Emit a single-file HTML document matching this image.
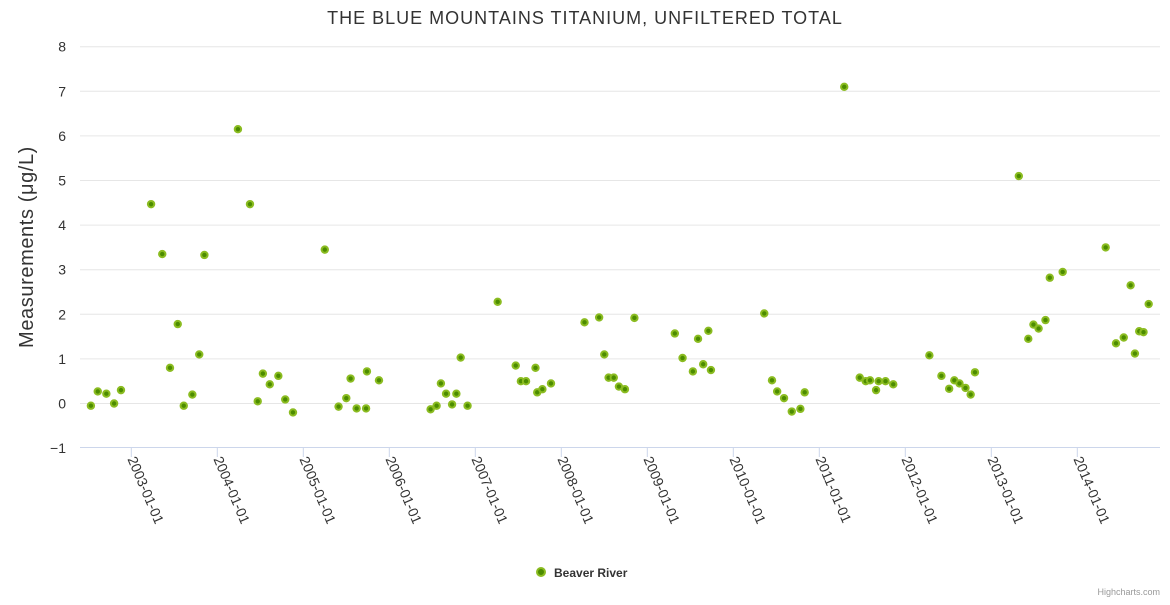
<!DOCTYPE html>
<html><head><meta charset="utf-8"><style>
body{margin:0;background:#fff;font-family:"Liberation Sans",sans-serif}
svg text{font-family:"Liberation Sans",sans-serif}
</style></head><body>
<svg id="c" width="1170" height="600" xmlns="http://www.w3.org/2000/svg">
<rect width="1170" height="600" fill="#fff"/>
<text x="585" y="24" text-anchor="middle" font-size="18" letter-spacing="1" fill="#333">THE BLUE MOUNTAINS TITANIUM, UNFILTERED TOTAL</text>
<text transform="translate(33,247) rotate(-90)" text-anchor="middle" font-size="20" letter-spacing="0.6" fill="#333">Measurements (μg/L)</text>
<g id="grid"></g><g id="xaxis"></g><g id="pts"></g>
<g>
<circle cx="541" cy="572" r="4" fill="#4c8c00" stroke="#8bbc21" stroke-width="2"/>
<text x="554" y="577" font-size="12" font-weight="bold" fill="#333">Beaver River</text>
</g>
<text x="1160" y="595" text-anchor="end" font-size="9" fill="#999">Highcharts.com</text>
</svg>
<script>
const yTicks=[-1,0,1,2,3,4,5,6,7,8];
const xTickYears=[2003,2004,2005,2006,2007,2008,2009,2010,2011,2012,2013,2014];
const xDates=[2002.53,2002.61,2002.71,2002.80,2002.88,2003.23,2003.36,2003.45,2003.54,2003.61,2003.71,2003.79,2003.85,
2004.24,2004.38,2004.47,2004.53,2004.61,2004.71,2004.79,2004.88,2005.25,2005.41,2005.50,2005.55,2005.62,2005.73,2005.74,2005.88,
2006.48,2006.55,2006.60,2006.66,2006.73,2006.78,2006.83,2006.91,2007.26,2007.47,2007.53,2007.59,2007.70,2007.72,2007.78,2007.88,
2008.27,2008.44,2008.50,2008.55,2008.61,2008.67,2008.74,2008.85,2009.32,2009.41,2009.53,2009.59,2009.65,2009.71,2009.74,
2010.36,2010.45,2010.51,2010.59,2010.68,2010.78,2010.83,2011.29,2011.47,2011.54,2011.59,2011.66,2011.69,2011.77,2011.86,
2012.28,2012.42,2012.51,2012.57,2012.63,2012.70,2012.76,2012.81,2013.32,2013.43,2013.49,2013.55,2013.63,2013.68,2013.83,
2014.33,2014.45,2014.54,2014.62,2014.67,2014.72,2014.77,2014.83];
const values=[-0.05,0.27,0.22,0.0,0.3,4.47,3.35,0.8,1.78,-0.05,0.2,1.1,3.33,
6.15,4.47,0.05,0.67,0.43,0.62,0.09,-0.2,3.45,-0.07,0.12,0.56,-0.11,-0.11,0.72,0.52,
-0.13,-0.05,0.45,0.22,-0.02,0.22,1.03,-0.05,2.28,0.85,0.5,0.5,0.8,0.25,0.32,0.45,
1.82,1.93,1.1,0.58,0.58,0.38,0.32,1.92,1.57,1.02,0.72,1.45,0.88,1.63,0.75,
2.02,0.52,0.27,0.12,-0.18,-0.12,0.25,7.1,0.58,0.5,0.52,0.3,0.5,0.5,0.43,
1.08,0.62,0.33,0.52,0.45,0.35,0.2,0.7,5.1,1.45,1.77,1.68,1.87,2.82,2.95,
3.5,1.35,1.48,2.65,1.12,1.62,1.6,2.23];
const NS="http://www.w3.org/2000/svg";
const L=80,R=1160;
function yS(v){return 403.5-v*44.6;}
function xS(t){return 131.3+(t-2003)*86;}
function mk(tag,at,par){const e=document.createElementNS(NS,tag);for(const k in at)e.setAttribute(k,at[k]);par.appendChild(e);return e;}
const grid=document.getElementById('grid'),xa=document.getElementById('xaxis'),pts=document.getElementById('pts');
yTicks.forEach(v=>{
 if(v>-1){const l=mk('line',{x1:L,x2:R,y1:yS(v),y2:yS(v),stroke:'#e6e6e6','stroke-width':1},grid);
 
 }
 const t=mk('text',{x:66,y:yS(v)+5,'text-anchor':'end','font-size':14,fill:'#333'},grid);
 t.textContent=v===-1?'−1':String(v);
 
 
});
const ax=mk('line',{x1:L,x2:R,y1:447.5,y2:447.5,stroke:'#ccd6eb','stroke-width':1},xa);


xTickYears.forEach(y=>{
 const x=xS(y);
 const tk=mk('line',{x1:x,x2:x,y1:447,y2:457,stroke:'#ccd6eb'},xa);
 
 
 const t=mk('text',{transform:`translate(${x-4},${459}) rotate(67)`,'font-size':14,fill:'#333'},xa);
 t.textContent=y+'-01-01';
 
 
});
xDates.forEach((d,i)=>{
 const c=mk('circle',{cx:xS(d),cy:yS(values[i]),r:3.2,fill:'#4c8c00',stroke:'#8bbc21','stroke-width':2},pts);
 
 
});
</script>
</body></html>
